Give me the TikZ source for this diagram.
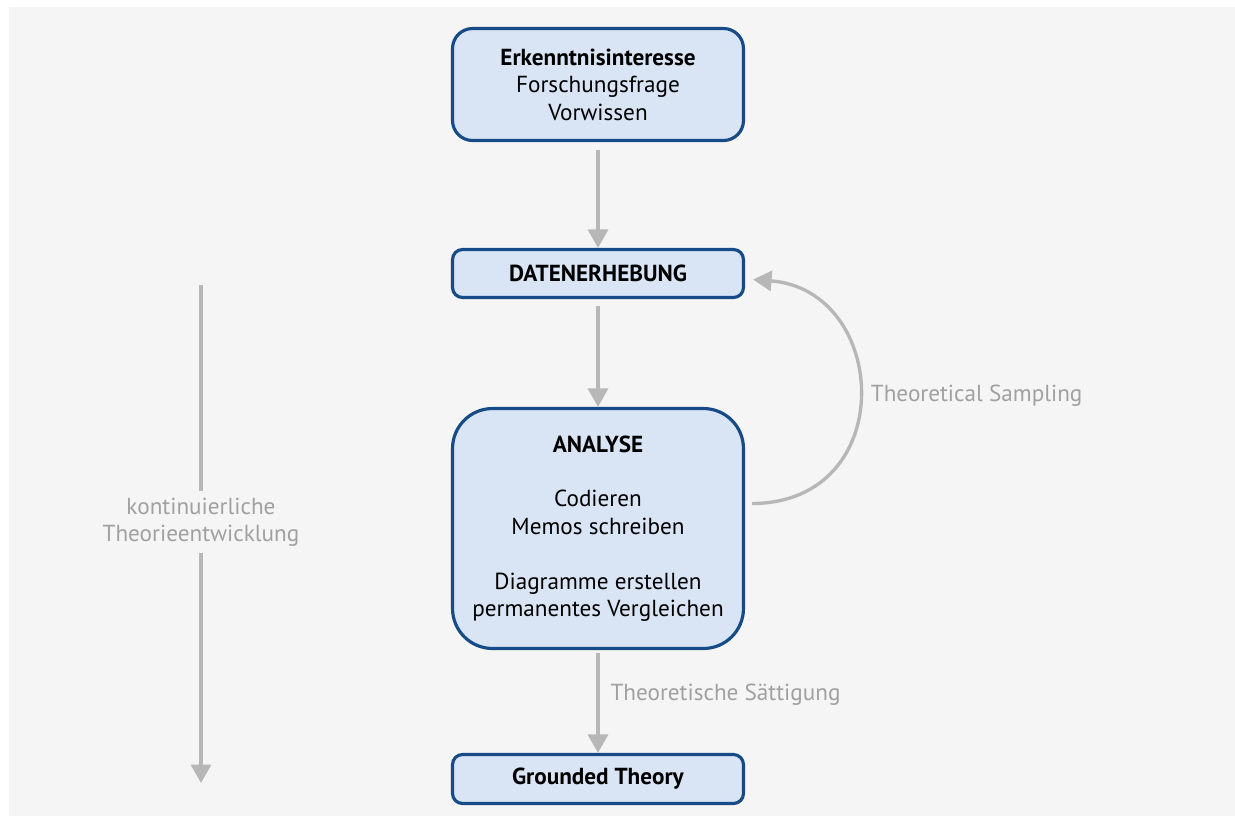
\documentclass[tikz,border=0pt]{standalone}
\usepackage{fontspec}
\setmainfont{PT Sans}
\usetikzlibrary{arrows.meta}
\definecolor{boxblue}{HTML}{174B87}
\definecolor{boxfill}{HTML}{D9E5F5}
\definecolor{arrowgrey}{HTML}{B8B7B7}
\definecolor{labelgrey}{HTML}{A0A0A0}
\definecolor{bggrey}{HTML}{F5F5F5}
\tikzstyle{stage}=[draw=boxblue, fill=boxfill, line width=1.8pt, align=center,
  minimum width=5.82cm, inner sep=0pt, font=\fontsize{13.2}{15.6}\selectfont]
\tikzstyle{flow}=[draw=arrowgrey, line width=1.9pt, -{Triangle[width=0.4cm,length=0.37cm]}]
\tikzstyle{note}=[text=labelgrey, align=center, font=\fontsize{13.2}{15.6}\selectfont]

\begin{document}
\begin{tikzpicture}[x=0.02cm, y=-0.02cm]
    \useasboundingbox (0,0) rectangle (1235,816);
    \fill[bggrey] (9,7) rectangle (1235,816);
    \node[stage, rounded corners=0.4cm, minimum height=2.24cm] (interest) at (598,84.5)
      {\textbf{Erkenntnisinteresse}\\Forschungsfrage\\Vorwissen};
    \node[stage, rounded corners=0.2cm, minimum height=0.96cm] (survey) at (598,273.5)
      {\textbf{DATENERHEBUNG}};
    \node[stage, rounded corners=0.8cm, minimum height=4.8cm] (analysis) at (598,528.5)
      {\textbf{ANALYSE}\\[15.6pt]Codieren\\Memos schreiben\\[15.6pt]Diagramme erstellen\\permanentes Vergleichen};
    \node[stage, rounded corners=0.2cm, minimum height=0.98cm] (theory) at (598,779)
      {\textbf{Grounded Theory}};
    \node[note] (devel) at (201,522) {kontinuierliche\\Theorieentwicklung};
    \coordinate (develtop) at (201,285);
    \coordinate (develend) at (201,783);
    \draw[flow] ([yshift=-0.16cm]interest.south) -- (survey.north);
    \draw[flow] ([yshift=-0.14cm]survey.south) -- (analysis.north);
    \draw[flow] ([yshift=-0.06cm]analysis.south) -- (theory.north)
      node[note, pos=0.42, right=0.1cm] (saturation) {Theoretische Sättigung};
    \draw[flow] ([xshift=0.14cm,yshift=0.5cm]analysis.east)
      .. controls (900,503) and (890,290) .. ([xshift=0.16cm,yshift=-0.12cm]survey.east)
      node[note, pos=0.5, right=0.08cm] (sampling) {Theoretical Sampling};
    \draw[draw=arrowgrey, line width=1.9pt] (develtop) -- (devel.north);
    \draw[flow] (devel.south) -- (develend);
\end{tikzpicture}
\end{document}
